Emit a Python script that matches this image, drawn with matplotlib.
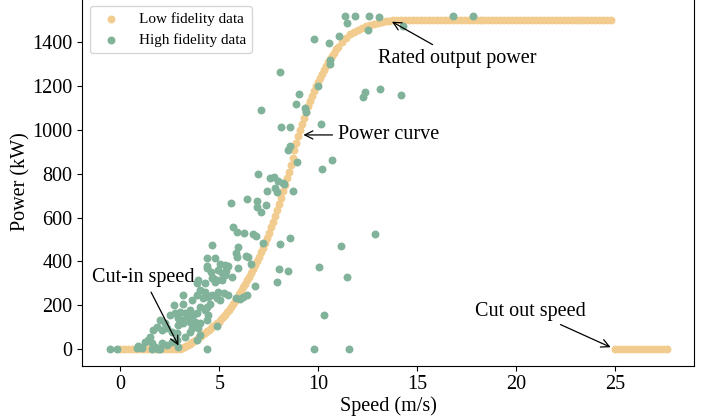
import matplotlib
matplotlib.use("Agg")
import matplotlib.pyplot as plt

plt.rcParams['font.family'] = 'serif'
plt.rcParams['font.serif'] = ['Liberation Serif', 'DejaVu Serif']

idle_speed = [0.0, 0.2, 0.4, 0.6, 0.8, 1.0, 1.2, 1.4, 1.6, 1.8, 2.0, 2.2, 2.4, 2.6, 2.8]
idle_power = [0, 0, 0, 0, 0, 0, 0, 0, 0, 0, 0, 0, 0, 0, 0]

ramp_speed = [3.0, 3.1, 3.2, 3.3, 3.4, 3.5, 3.6, 3.7, 3.8, 3.9,
              4.0, 4.1, 4.2, 4.3, 4.4, 4.5, 4.6, 4.7, 4.8, 4.9,
              5.0, 5.1, 5.2, 5.3, 5.4, 5.5, 5.6, 5.7, 5.8, 5.9,
              6.0, 6.1, 6.2, 6.3, 6.4, 6.5, 6.6, 6.7, 6.8, 6.9,
              7.0, 7.1, 7.2, 7.3, 7.4, 7.5, 7.6, 7.7, 7.8, 7.9,
              8.0, 8.1, 8.2, 8.3, 8.4, 8.5, 8.6, 8.7, 8.8, 8.9,
              9.0, 9.1, 9.2, 9.3, 9.4, 9.5, 9.6, 9.7, 9.8, 9.9,
              10.0, 10.1, 10.2, 10.3, 10.4, 10.5, 10.6, 10.7, 10.8, 10.9,
              11.0, 11.2, 11.4, 11.6, 11.8, 12.0, 12.2, 12.4, 12.6, 12.8,
              13.0, 13.2, 13.4, 13.6, 13.8]
ramp_power = [0, 5, 10, 15, 20, 25, 31, 37, 43, 49,
              55, 61, 68, 75, 81, 88, 95, 103, 110, 118,
              125, 135, 146, 157, 168, 180, 193, 207, 221, 235,
              250, 265, 281, 297, 313, 330, 347, 365, 383, 401,
              420, 441, 463, 485, 507, 530, 555, 581, 607, 633,
              660, 690, 720, 750, 780, 810, 842, 874, 906, 938,
              970, 999, 1027, 1055, 1083, 1110, 1133, 1155, 1177, 1199,
              1220, 1239, 1257, 1275, 1293, 1310, 1325, 1339, 1353, 1367,
              1380, 1402, 1421, 1437, 1448, 1458, 1466, 1473, 1479, 1485,
              1490, 1494, 1497, 1499, 1500]

rated_speed = [14.0, 14.2, 14.4, 14.6, 14.8, 15.0, 15.2, 15.4, 15.6, 15.8,
               16.0, 16.2, 16.4, 16.6, 16.8, 17.0, 17.2, 17.4, 17.6, 17.8,
               18.0, 18.2, 18.4, 18.6, 18.8, 19.0, 19.2, 19.4, 19.6, 19.8,
               20.0, 20.2, 20.4, 20.6, 20.8, 21.0, 21.2, 21.4, 21.6, 21.8,
               22.0, 22.2, 22.4, 22.6, 22.8, 23.0, 23.2, 23.4, 23.6, 23.8,
               24.0, 24.2, 24.4, 24.6, 24.8]
rated_power = [1500, 1500, 1500, 1500, 1500, 1500, 1500, 1500, 1500, 1500,
               1500, 1500, 1500, 1500, 1500, 1500, 1500, 1500, 1500, 1500,
               1500, 1500, 1500, 1500, 1500, 1500, 1500, 1500, 1500, 1500,
               1500, 1500, 1500, 1500, 1500, 1500, 1500, 1500, 1500, 1500,
               1500, 1500, 1500, 1500, 1500, 1500, 1500, 1500, 1500, 1500,
               1500, 1500, 1500, 1500, 1500]

cutout_speed = [25.0, 25.2, 25.4, 25.6, 25.8, 26.0, 26.2, 26.4, 26.6, 26.8, 27.0, 27.2, 27.4, 27.6]
cutout_power = [0, 0, 0, 0, 0, 0, 0, 0, 0, 0, 0, 0, 0, 0]

lf_speed = idle_speed + ramp_speed + rated_speed + cutout_speed
lf_power = idle_power + ramp_power + rated_power + cutout_power

# high fidelity data (measured points)
hf_speed = [-0.52, -0.18, 0.83, 1.08, 0.91, 1.59, 1.92, 2.00, 4.36, 9.78,
            11.57, 1.75, 2.93, 2.34, 1.59, 2.09, 1.25, 2.60, 1.41, 2.85,
            3.86, 1.50, 3.27, 4.03, 2.85, 2.60, 3.52, 1.67, 2.09, 2.34,
            3.61, 3.94, 1.84, 4.87, 2.93, 3.18, 2.26, 4.03, 3.52, 3.77,
            3.10, 2.00, 4.36, 2.93, 3.44, 2.51, 3.69, 4.44, 2.76, 3.27,
            3.86, 3.02, 3.52, 4.28, 4.36, 4.03, 4.53, 2.70, 3.18, 3.61,
            5.04, 4.87, 4.19, 5.84, 6.05, 6.21, 6.38, 4.44, 3.86, 4.62,
            3.15, 5.25, 5.45, 4.95, 4.28, 4.03, 6.78, 3.86, 4.28, 7.90,
            4.78, 4.87, 4.70, 5.12, 3.94, 4.62, 5.63, 5.30, 5.12, 5.34,
            4.56, 4.95, 8.49, 8.03, 4.36, 4.40, 5.45, 5.04, 5.29, 5.96,
            6.60, 4.36, 4.78, 5.88, 6.35, 6.46, 5.84, 4.62, 5.93, 7.22,
            8.07, 8.57, 6.26, 5.88, 6.69, 6.85, 5.68, 7.11, 6.92, 7.34,
            5.59, 6.89, 6.38, 7.39, 7.81, 7.90, 8.71, 7.98, 8.23, 8.28,
            7.56, 7.78, 6.97, 8.92, 8.48, 8.57, 8.12, 8.57, 10.12, 10.68,
            10.19, 7.11, 8.87, 9.03, 9.33, 9.38, 10.00, 8.07, 10.59, 10.59,
            9.80, 10.56, 11.06, 11.43, 12.53, 11.35, 11.85, 12.58, 13.08, 14.29,
            16.82, 17.80, 12.36, 12.27, 13.12, 14.18, 12.86, 11.15, 10.02, 11.43,
            10.29]
hf_power = [0, 0, 3, 3, 15, 0, 0, 0, 0, 0,
            0, 10, 10, 18, 26, 26, 33, 33, 41, 41,
            41, 56, 56, 64, 72, 79, 79, 87, 87, 94,
            94, 94, 102, 106, 110, 117, 120, 120, 125, 125,
            132, 132, 132, 140, 147, 155, 155, 155, 163, 163,
            163, 170, 178, 178, 193, 193, 205, 203, 204, 224,
            224, 231, 231, 231, 227, 236, 246, 236, 246, 246,
            246, 254, 246, 262, 262, 269, 286, 303, 300, 304,
            307, 315, 325, 315, 315, 323, 327, 338, 348, 357,
            353, 361, 357, 364, 379, 368, 379, 388, 383, 368,
            390, 417, 417, 421, 424, 418, 437, 475, 467, 482,
            479, 505, 528, 533, 523, 517, 558, 627, 649, 657,
            665, 675, 686, 722, 733, 718, 721, 767, 759, 752,
            779, 786, 797, 852, 908, 926, 1012, 1013, 1026, 863,
            822, 1089, 1118, 1162, 1099, 1083, 1200, 1264, 1319, 1301,
            1413, 1398, 1429, 1489, 1456, 1521, 1521, 1521, 1514, 1474,
            1521, 1521, 1174, 1151, 1185, 1158, 523, 471, 373, 330,
            154]

lf_color = '#F2CC8F'
hf_color = '#81B29A'

fig = plt.figure(figsize=(7.14, 4.19), dpi=100)
ax = fig.add_axes([0.1153, 0.1272, 0.8571, 0.8766])

ax.scatter(lf_speed, lf_power, s=22, color=lf_color, label='Low fidelity data')
ax.scatter(hf_speed, hf_power, s=22, color=hf_color, label='High fidelity data')

ax.set_xlim(-1.92, 29.0)
ax.set_ylim(-76, 1600)
ax.set_xticks([0, 5, 10, 15, 20, 25])
ax.set_yticks([0, 200, 400, 600, 800, 1000, 1200, 1400])
ax.tick_params(labelsize=14.5)
ax.set_xlabel('Speed (m/s)', fontsize=14.5, labelpad=1)
ax.set_ylabel('Power (kW)', fontsize=14.5)
ax.yaxis.set_label_coords(-0.085, 0.5)

arrow = dict(arrowstyle='->', color='black', lw=0.9)
ax.annotate('Rated output power', xy=(13.6, 1500), xytext=(17.0, 1327),
            ha='center', va='center', fontsize=14.5, arrowprops=arrow)
ax.annotate('Power curve', xy=(9.11, 977), xytext=(11.0, 977),
            ha='left', va='center', fontsize=14.5, arrowprops=arrow)
ax.annotate('Cut-in speed', xy=(3.0, 5), xytext=(1.17, 327),
            ha='center', va='center', fontsize=14.5, arrowprops=arrow)
ax.annotate('Cut out speed', xy=(24.9, 3), xytext=(20.74, 173),
            ha='center', va='center', fontsize=14.5, arrowprops=arrow)

ax.legend(loc='upper left', fontsize=11)

fig.savefig('out.png', dpi=100)
